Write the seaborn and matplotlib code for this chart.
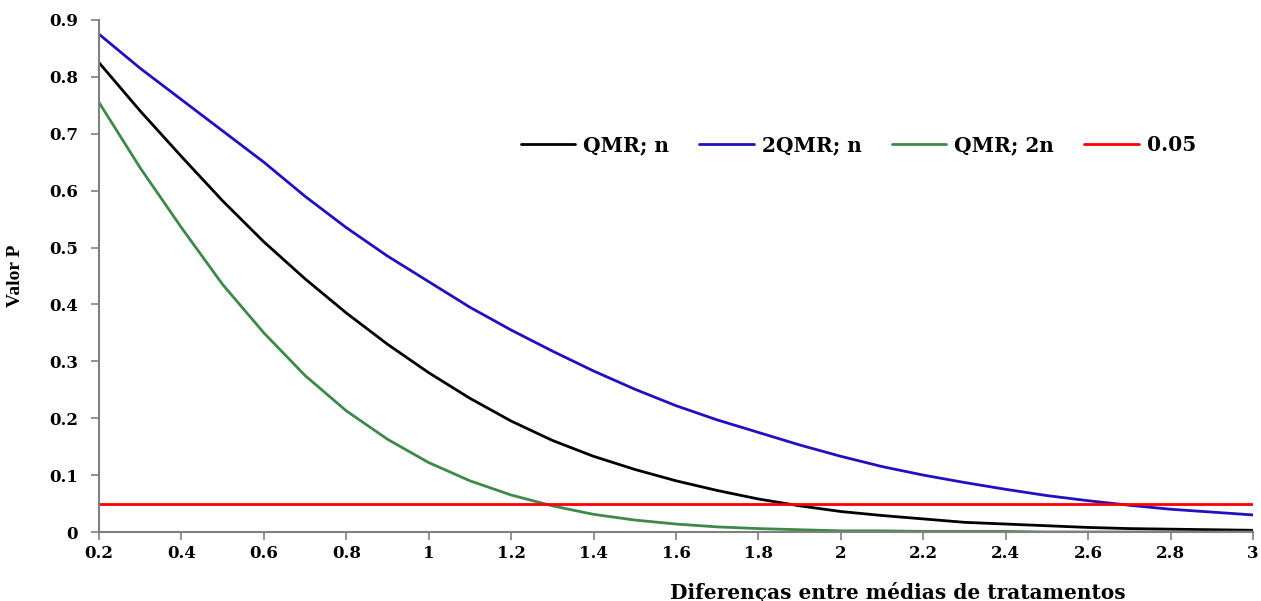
import numpy as np
import pandas as pd
import matplotlib
matplotlib.use("Agg")
import matplotlib.pyplot as plt
import seaborn as sns
from matplotlib.ticker import FuncFormatter

x = [0.2, 0.3, 0.4, 0.5, 0.6, 0.7, 0.8, 0.9, 1.0, 1.1, 1.2, 1.3, 1.4, 1.5, 1.6,
     1.7, 1.8, 1.9, 2.0, 2.1, 2.2, 2.3, 2.4, 2.5, 2.6, 2.7, 2.8, 2.9, 3.0]
qmr_n = [0.825, 0.740, 0.660, 0.582, 0.510, 0.445, 0.385, 0.330, 0.280, 0.235,
         0.195, 0.161, 0.133, 0.110, 0.090, 0.073, 0.058, 0.046, 0.036, 0.029,
         0.023, 0.017, 0.014, 0.011, 0.008, 0.006, 0.005, 0.004, 0.003]
qmr2_n = [0.875, 0.815, 0.760, 0.705, 0.650, 0.590, 0.535, 0.485, 0.440, 0.395,
          0.355, 0.318, 0.283, 0.251, 0.222, 0.197, 0.175, 0.153, 0.133, 0.115,
          0.100, 0.087, 0.075, 0.064, 0.055, 0.047, 0.040, 0.035, 0.030]
qmr_2n = [0.755, 0.640, 0.535, 0.435, 0.350, 0.275, 0.213, 0.163, 0.122, 0.090,
          0.065, 0.046, 0.031, 0.021, 0.014, 0.009, 0.006, 0.004, 0.002, 0.002,
          0.001, 0.001, 0.001, 0.000, 0.000, 0.000, 0.000, 0.000, 0.000]
threshold = 0.05

labels = ["QMR; n", "2QMR; n", "QMR; 2n"]
colors = ["#000000", "#2010c0", "#3d8a48"]
red = "#ff0000"

sns.set_theme(style="white")
plt.rcParams["font.family"] = ["DejaVu Serif", "Liberation Serif"]
plt.rcParams["font.weight"] = "bold"
plt.rcParams["text.color"] = "black"
plt.rcParams["axes.labelcolor"] = "black"
plt.rcParams["xtick.labelcolor"] = "black"
plt.rcParams["ytick.labelcolor"] = "black"

fig = plt.figure(figsize=(12.61, 6.01), dpi=100)
ax = fig.add_axes([0.0785, 0.1148, 0.9152, 0.852])

for lab, ys, c in zip(labels, [qmr_n, qmr2_n, qmr_2n], colors):
    df = pd.DataFrame({"x": x, "y": ys})
    sns.lineplot(data=df, x="x", y="y", ax=ax, color=c, linewidth=2.0, label=lab)
ax.axhline(threshold, color=red, linewidth=2.0, label="0.05")

ax.set_xlim(0.2, 3.0)
ax.set_ylim(0, 0.9)
ax.set_xticks(np.arange(0.2, 3.01, 0.2))
ax.set_yticks(np.arange(0, 0.91, 0.1))
fmt = FuncFormatter(lambda v, p: ("%.1f" % v).rstrip("0").rstrip(".") if abs(v) > 1e-9 else "0")
ax.xaxis.set_major_formatter(fmt)
ax.yaxis.set_major_formatter(fmt)

for s in ["top", "right"]:
    ax.spines[s].set_visible(False)
for s in ["left", "bottom"]:
    ax.spines[s].set_color("#808080")
    ax.spines[s].set_linewidth(1.5)

ax.tick_params(axis="both", which="major", direction="out", length=6, width=1.2,
               color="#808080", labelcolor="black", labelsize=12, bottom=True, left=True)
ax.tick_params(axis="x", pad=3)
ax.tick_params(axis="y", pad=9)
for t in ax.get_xticklabels() + ax.get_yticklabels():
    t.set_fontweight("bold")
    t.set_fontfamily("DejaVu Serif")

ax.set_xlabel("Diferenças entre médias de tratamentos", fontsize=14.5,
              fontweight="bold", fontfamily="DejaVu Serif", color="black")
ax.xaxis.set_label_coords(0.692, -0.098)
ax.set_ylabel("Valor P", fontsize=14, fontweight="bold", fontfamily="Liberation Serif",
              color="black")
ax.yaxis.set_label_coords(-0.065, 0.5)

leg = ax.legend(loc="center", bbox_to_anchor=(0.658, 0.756), ncol=4, frameon=False,
                prop={"family": "DejaVu Serif", "weight": "bold", "size": 14.5},
                handlelength=2.7, handletextpad=0.4, columnspacing=1.5)
for t in leg.get_texts():
    t.set_color("black")

fig.savefig("out.png", dpi=100)
